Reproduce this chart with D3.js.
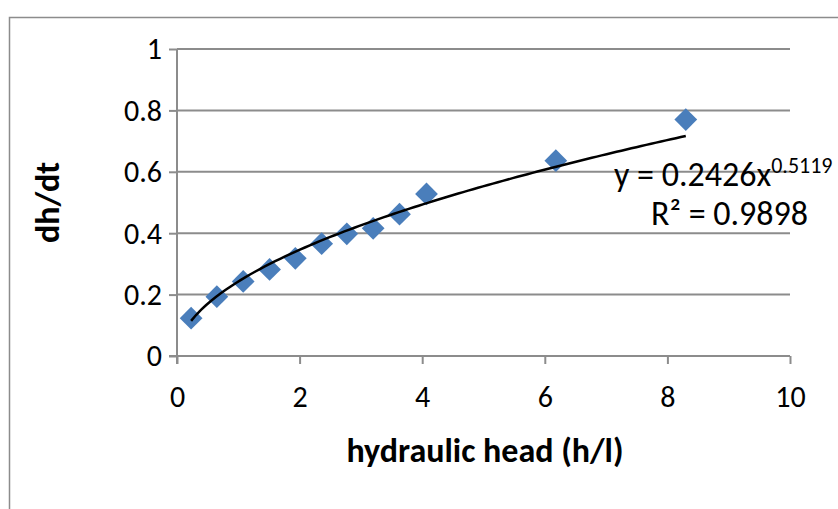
<!DOCTYPE html>
<html>
<head>
<meta charset="utf-8">
<script src="https://cdnjs.cloudflare.com/ajax/libs/d3/7.8.5/d3.min.js"></script>
<style>
  body { margin: 0; background: #fff; }
  svg { display: block; font-family: Carlito, Lato, "Open Sans", sans-serif; }
</style>
</head>
<body>
<svg width="838" height="509"></svg>
<script>
// values
var headValues = [0.23, 0.65, 1.08, 1.51, 1.93, 2.36, 2.77, 3.20, 3.63, 4.07, 6.18, 8.30];
var rateValues = [0.123, 0.193, 0.243, 0.282, 0.318, 0.366, 0.398, 0.416, 0.462, 0.528, 0.636, 0.770];
var xTicks = [0, 2, 4, 6, 8, 10];
var yTicks = [0, 0.2, 0.4, 0.6, 0.8, 1];
var fitCoef = 0.2426;     // power trendline y = a * x^b
var fitExp = 0.5119;
var fitR2 = "0.9898";

var svg = d3.select("svg");
var margin = { top: 49, left: 177, right: 48, bottom: 153 };
var width = 838, height = 509;
var innerWidth = width - margin.left - margin.right;
var innerHeight = height - margin.top - margin.bottom;
var fontStack = "Carlito, Lato, 'Open Sans', sans-serif";

// chart area border (runs off the right and bottom like the reference)
svg.append("rect")
    .attr("x", 9.5).attr("y", 17.5)
    .attr("width", 860).attr("height", 520)
    .attr("fill", "#fff")
    .attr("stroke", "#8c8c8c")
    .attr("stroke-width", 1.5);

var group = svg.append("g")
    .attr("transform", "translate(" + margin.left + "," + margin.top + ")");

var x = d3.scaleLinear().domain([0, 10]).range([0, innerWidth]);
var y = d3.scaleLinear().domain([0, 1]).range([innerHeight, 0]);

// horizontal gridlines
group.selectAll(".grid")
    .data(yTicks.slice(1))
    .enter()
    .append("line")
    .attr("class", "grid")
    .attr("x1", 0).attr("x2", innerWidth)
    .attr("y1", d => y(d)).attr("y2", d => y(d))
    .attr("stroke", "#8c8c8c")
    .attr("stroke-width", 2);

// axes
var yAxis = group.append("g")
    .call(d3.axisLeft(y).tickValues(yTicks).tickSize(8).tickFormat(d => String(+d.toFixed(1))));

var xAxis = group.append("g")
    .attr("transform", "translate(0," + innerHeight + ")")
    .call(d3.axisBottom(x).tickValues(xTicks).tickSize(8));

[yAxis, xAxis].forEach(function(ax) {
    ax.attr("font-size", 30).attr("font-family", fontStack);
    ax.select(".domain").attr("stroke", "#8c8c8c").attr("stroke-width", 2);
    ax.selectAll(".tick line").attr("stroke", "#8c8c8c").attr("stroke-width", 2);
    ax.selectAll(".tick text")
        .attr("fill", "#000")
        .attr("font-size", 30)
        .attr("font-family", fontStack);
});
yAxis.selectAll(".tick text").attr("x", -15).attr("dy", "0.33em").attr("text-anchor", "end");
xAxis.selectAll(".tick text").attr("y", 51).attr("dy", null).attr("text-anchor", "middle");
yAxis.select(".domain").attr("d", "M0," + (innerHeight + 8) + "V0");
xAxis.select(".domain").attr("d", "M-8,0H" + innerWidth);

// axis titles
group.append("text")
    .attr("x", 308)
    .attr("y", innerHeight + 106)
    .attr("text-anchor", "middle")
    .attr("font-size", 34)
    .attr("font-weight", "bold")
    .text("hydraulic head (h/l)");

group.append("text")
    .attr("transform", "rotate(-90)")
    .attr("x", -(y(0.5)))
    .attr("y", -118)
    .attr("text-anchor", "middle")
    .attr("font-size", 34)
    .attr("font-weight", "bold")
    .text("dh/dt");

// data points as diamonds
var points = headValues.map((h, i) => ({ h: h, r: rateValues[i] }));
group.selectAll(".pt")
    .data(points)
    .enter()
    .append("path")
    .attr("class", "pt")
    .attr("transform", d => "translate(" + x(d.h) + "," + y(d.r) + ")")
    .attr("d", d3.symbol().type(d3.symbolDiamond2).size(330))
    .attr("fill", "#4a7ebb");

// power trendline across the data range
var xMin = d3.min(headValues), xMax = d3.max(headValues);
var fit = d3.range(0, 101).map(i => {
    var xv = xMin + (xMax - xMin) * i / 100;
    return [xv, fitCoef * Math.pow(xv, fitExp)];
});
group.append("path")
    .datum(fit)
    .attr("fill", "none")
    .attr("stroke", "#000")
    .attr("stroke-width", 2.5)
    .attr("d", d3.line().x(d => x(d[0])).y(d => y(d[1])));

// equation label
var eq = svg.append("text")
    .attr("x", 614)
    .attr("y", 186)
    .attr("font-size", 34);
eq.append("tspan").text("y = " + fitCoef + "x");
eq.append("tspan").attr("dy", -13).attr("font-size", 22).text(fitExp);

svg.append("text")
    .attr("x", 808)
    .attr("y", 225)
    .attr("text-anchor", "end")
    .attr("font-size", 34)
    .text("R\u00b2 = " + fitR2);
</script>
</body>
</html>
